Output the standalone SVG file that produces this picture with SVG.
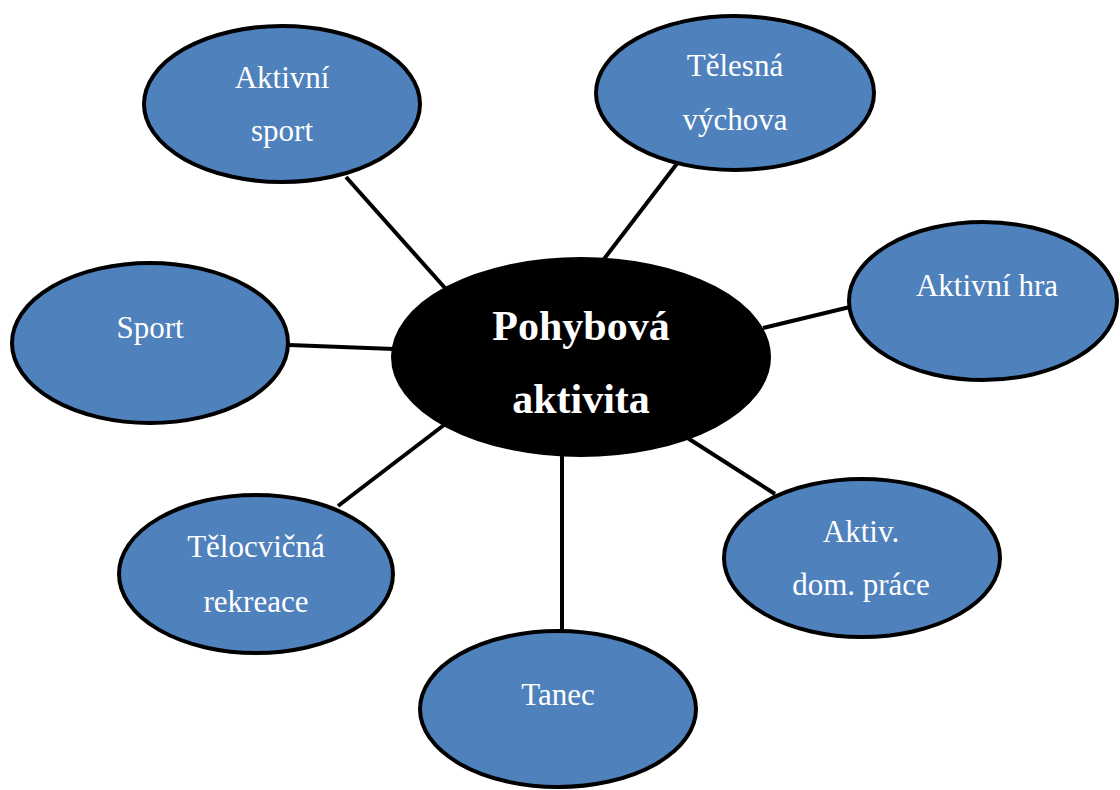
<svg xmlns="http://www.w3.org/2000/svg" width="1120" height="790" viewBox="0 0 1120 790">
  <style>
    .bg { fill: #ffffff; }
    .link { stroke: #000000; stroke-width: 4; fill: none; }
    .leaf { fill: #4f81bd; stroke: #000000; stroke-width: 4; }
    .hub { fill: #000000; stroke: #000000; stroke-width: 2; }
    .label { font-family: "Liberation Serif", "Times New Roman", serif; font-size: 31px; fill: #ffffff; text-anchor: middle; }
    .title { font-family: "Liberation Serif", "Times New Roman", serif; font-size: 42px; font-weight: bold; fill: #ffffff; text-anchor: middle; }
  </style>
  <rect class="bg" x="0" y="0" width="1120" height="790"/>

  <!-- spokes from the hub to each topic -->
  <g id="connectors">
    <line class="link" x1="346" y1="177" x2="445" y2="288"/>
    <line class="link" x1="679" y1="161" x2="604" y2="259"/>
    <line class="link" x1="850" y1="307" x2="763" y2="328"/>
    <line class="link" x1="289" y1="345" x2="394" y2="349"/>
    <line class="link" x1="338" y1="506" x2="444" y2="425"/>
    <line class="link" x1="562" y1="456" x2="562" y2="631"/>
    <line class="link" x1="686" y1="437" x2="775" y2="494"/>
  </g>

  <g id="hub">
    <ellipse class="hub" cx="581" cy="357" rx="189" ry="99"/>
    <text class="title" x="581" y="340">Pohybová</text>
    <text class="title" x="581" y="413">aktivita</text>
  </g>

  <g id="aktivni-sport">
    <ellipse class="leaf" cx="282" cy="104" rx="138" ry="78"/>
    <text class="label" x="282" y="88">Aktivní</text>
    <text class="label" x="282" y="141">sport</text>
  </g>

  <g id="telesna-vychova">
    <ellipse class="leaf" cx="735" cy="93" rx="139" ry="77"/>
    <text class="label" x="735" y="76">Tělesná</text>
    <text class="label" x="735" y="130">výchova</text>
  </g>

  <g id="aktivni-hra">
    <ellipse class="leaf" cx="983" cy="301" rx="134" ry="79"/>
    <text class="label" x="987" y="296">Aktivní hra</text>
  </g>

  <g id="sport">
    <ellipse class="leaf" cx="150" cy="343" rx="138" ry="80"/>
    <text class="label" x="150" y="338">Sport</text>
  </g>

  <g id="telocvicna-rekreace">
    <ellipse class="leaf" cx="256" cy="574" rx="137" ry="79"/>
    <text class="label" x="256" y="557">Tělocvičná</text>
    <text class="label" x="256" y="612">rekreace</text>
  </g>

  <g id="tanec">
    <ellipse class="leaf" cx="558" cy="709" rx="138" ry="78"/>
    <text class="label" x="558" y="705">Tanec</text>
  </g>

  <g id="domaci-prace">
    <ellipse class="leaf" cx="862" cy="558" rx="138" ry="79"/>
    <text class="label" x="861" y="542">Aktiv.</text>
    <text class="label" x="861" y="595">dom. práce</text>
  </g>
</svg>
